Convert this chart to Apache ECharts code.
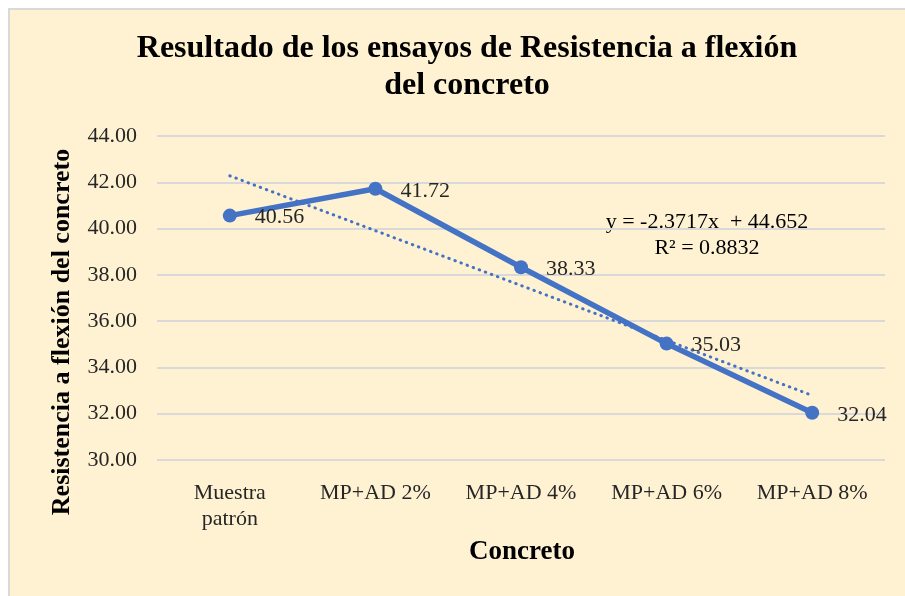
<!DOCTYPE html>
<html>
<head>
<meta charset="utf-8">
<script src="https://cdn.jsdelivr.net/npm/echarts@6/dist/echarts.min.js"></script>
<style>
  html, body { margin: 0; padding: 0; background: #fff; }
  #chart {
    position: absolute;
    left: 10px;
    top: 10px;
    width: 895px;
    height: 586px;
    outline: 2px solid #d9d9d9;
  }
</style>
</head>
<body>
<div id="chart"></div>
<script>
  // datos
  const categories = ["Muestra\npatrón", "MP+AD 2%", "MP+AD 4%", "MP+AD 6%", "MP+AD 8%"];
  const resistencia = [40.56, 41.72, 38.33, 35.03, 32.04];
  // linea de tendencia (y = -2.3717x + 44.652) en cada categoria
  const tendencia = [42.28, 39.91, 37.54, 35.17, 32.79];
  const yTicks = { min: 30, max: 44, interval: 2 };

  const serif = "'Liberation Serif', 'DejaVu Serif', serif";
  const blue = "#4472C4";
  const txt = "#262626";

  const chart = echarts.init(document.getElementById("chart"));
  chart.setOption({
    backgroundColor: "#FFF2D3",
    animation: false,
    title: {
      text: "Resultado de los ensayos de Resistencia a flexión\ndel concreto",
      left: 452,
      textAlign: "center",
      top: 15,
      textStyle: {
        fontFamily: serif,
        fontSize: 32,
        fontWeight: "bold",
        color: "#000",
        lineHeight: 37,
      },
    },
    grid: { left: 147, right: 20, top: 126, bottom: 136 },
    xAxis: {
      type: "category",
      data: categories,
      boundaryGap: true,
      axisLine: { show: false },
      axisTick: { show: false },
      axisLabel: {
        fontFamily: serif,
        fontSize: 22,
        color: txt,
        margin: 20,
        lineHeight: 26,
        interval: 0,
      },
    },
    yAxis: {
      type: "value",
      min: yTicks.min,
      max: yTicks.max,
      interval: yTicks.interval,
      axisLine: { show: false },
      axisTick: { show: false },
      axisLabel: {
        fontFamily: serif,
        fontSize: 22,
        color: txt,
        margin: 20,
        formatter: v => v.toFixed(2),
      },
      splitLine: { lineStyle: { color: "#d9d9d9", width: 2 } },
    },
    series: [
      {
        name: "Resistencia",
        type: "line",
        data: resistencia,
        symbol: "circle",
        symbolSize: 14,
        lineStyle: { color: blue, width: 5.5 },
        itemStyle: { color: blue },
        label: {
          show: true,
          position: "right",
          distance: 18,
          offset: [0, 2],
          fontFamily: serif,
          fontSize: 22,
          color: txt,
          formatter: p => p.value.toFixed(2),
        },
        z: 3,
      },
      {
        name: "Tendencia",
        type: "line",
        data: tendencia,
        symbol: "none",
        lineStyle: { color: blue, width: 3, type: [0.5, 6], cap: "round" },
        z: 2,
      },
    ],
    graphic: [
      {
        type: "text",
        x: 52,
        y: 322,
        rotation: Math.PI / 2,
        style: {
          text: "Resistencia a flexión del concreto",
          fontFamily: serif,
          fontSize: 26,
          fontWeight: "bold",
          fill: "#000",
          align: "center",
          verticalAlign: "middle",
        },
      },
      {
        type: "text",
        x: 512,
        y: 542,
        style: {
          text: "Concreto",
          fontFamily: serif,
          fontSize: 27,
          fontWeight: "bold",
          fill: "#000",
          align: "center",
          verticalAlign: "middle",
        },
      },
      {
        type: "text",
        x: 697,
        y: 212,
        style: {
          text: "y = -2.3717x  + 44.652",
          fontFamily: serif,
          fontSize: 22,
          fill: "#000",
          align: "center",
          verticalAlign: "middle",
        },
      },
      {
        type: "text",
        x: 697,
        y: 238,
        style: {
          text: "R² = 0.8832",
          fontFamily: serif,
          fontSize: 22,
          fill: "#000",
          align: "center",
          verticalAlign: "middle",
        },
      },
    ],
  });
</script>
</body>
</html>
